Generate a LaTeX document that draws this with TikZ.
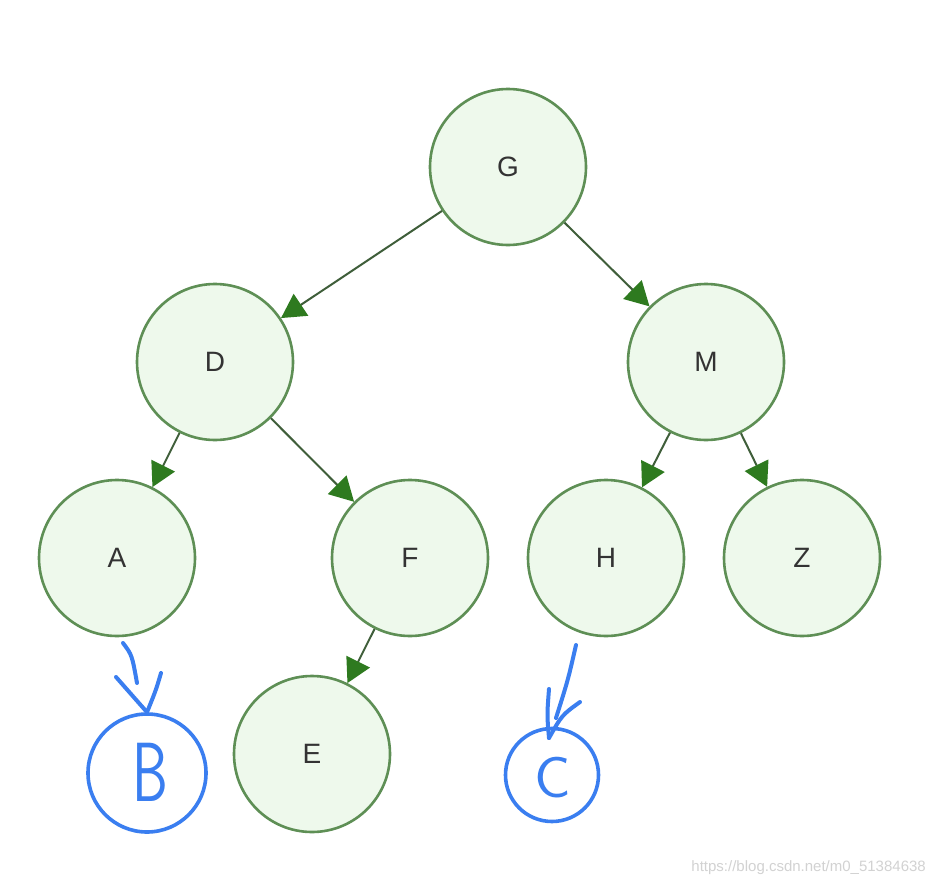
\documentclass[tikz,border=0pt]{standalone}
\usepackage{fontspec}
\setmainfont{Liberation Sans}
\usetikzlibrary{arrows.meta}
\definecolor{nodeline}{HTML}{5E8F55}
\definecolor{nodefill}{HTML}{EEF9EC}
\definecolor{edgeline}{HTML}{3F5E3A}
\definecolor{tipgreen}{HTML}{2E7A1F}
\definecolor{handblue}{HTML}{3A7EF0}
\definecolor{wmgray}{HTML}{D2D2D2}
\begin{document}
\begin{tikzpicture}[x=1pt,y=-1pt,
  treenode/.style={circle,draw=nodeline,fill=nodefill,line width=2.6pt,minimum size=156pt,inner sep=0pt,
    font=\fontsize{28}{30}\selectfont,text=black!80},
  edge/.style={draw=edgeline,line width=2pt,
    -{Triangle[length=24pt,width=26pt,fill=tipgreen,color=tipgreen]}},
  handcircle/.style={circle,draw=handblue,line width=3.6pt,inner sep=0pt},
  hand/.style={draw=handblue,line width=4pt,line cap=round,line join=round}]
\useasboundingbox (0,0) rectangle (935,886);
\fill[white] (0,0) rectangle (935,886);
% tree nodes
\node[treenode] (G) at (508,167) {G};
\node[treenode] (D) at (215,362) {D};
\node[treenode] (M) at (706,362) {M};
\node[treenode] (A) at (117,558) {A};
\node[treenode] (F) at (410,558) {F};
\node[treenode] (H) at (606,558) {H};
\node[treenode] (Z) at (802,558) {Z};
\node[treenode] (E) at (312,754) {E};
% edges
\draw[edge] (G) -- (D);
\draw[edge] (G) -- (M);
\draw[edge] (D) -- (A);
\draw[edge] (D) -- (F);
\draw[edge] (M) -- (H);
\draw[edge] (M) -- (Z);
\draw[edge] (F) -- (E);
% handwritten additions
\node[handcircle,minimum size=118pt] (B) at (147,773) {};
\node[text=handblue,font=\sffamily\fontsize{84}{84}\selectfont] (Bt) at (150,772) {\scalebox{0.68}[1]{B}};
\node[handcircle,minimum size=93pt] (C) at (552,775) {};
\node[text=handblue,font=\sffamily\fontsize{58}{58}\selectfont] (Ct) at (553,778) {\scalebox{1.05}[1]{C}};
% hand-drawn arrow A -> B
\coordinate (b1) at (123,643);
\coordinate (b2) at (137,683);
\coordinate (bl) at (116,677);
\coordinate (br) at (161,673);
\draw[hand] (b1) .. controls (132,655) .. (b2);
\draw[hand] (bl) -- (B.north);
\draw[hand] (br) .. controls (156,690) .. (B.north);
% hand-drawn arrow H -> C
\coordinate (c1) at (576,645);
\coordinate (c2) at (556,718);
\coordinate (cl) at (549,689);
\coordinate (cr) at (580,702);
\coordinate (ctip) at (549,738);
\draw[hand] (c1) .. controls (568,680) .. (c2);
\draw[hand] (cl) .. controls (547,715) .. (ctip);
\draw[hand] (cr) .. controls (562,715) .. (ctip);
% watermark
\node[anchor=east,text=wmgray,font=\fontsize{15}{15}\selectfont,inner sep=0pt] (wm) at (926,868) {https://blog.csdn.net/m0\_51384638};
\end{tikzpicture}
\end{document}
